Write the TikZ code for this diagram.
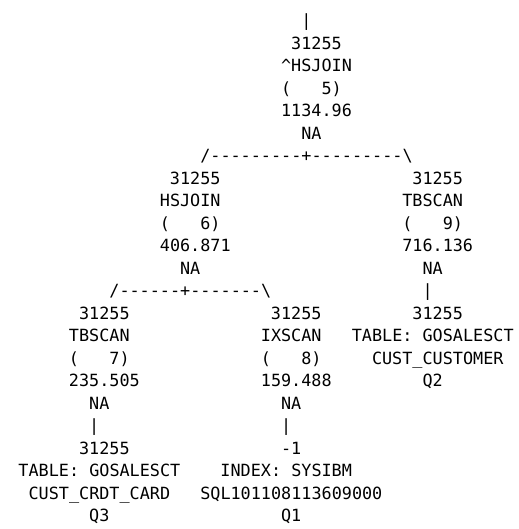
\documentclass[tikz,border=0pt]{standalone}
\usepackage{fontspec}
\usepackage{tikz}
\newfontfamily\planfont{DejaVu Sans Mono}[Ligatures=TeXOff]

\begin{document}
\begin{tikzpicture}[
  x=10.1pt, y=-22.5pt,
  cell/.style={font=\planfont\fontsize{16.8pt}{22.5pt}\selectfont, inner sep=0pt, anchor=base west},
  wire/.style={cell}
]
  \useasboundingbox (-1.81,-1.18) rectangle (49.57,22.33);

  % Operator 5 (root hash join)
  \node[wire] (w5top) at (28,0) {|};
  \node[cell] (o5r) at (27,1) {31255};
  \node[cell] (o5t) at (26,2) {\textasciicircum HSJOIN};
  \node[cell] (o5n) at (26,3) {(~~~5)};
  \node[cell] (o5c) at (26,4) {1134.96};
  \node[cell] (o5i) at (28,5) {NA};
  \node[wire] (w5) at (18,6) {/---------+---------\textbackslash};

  % Operator 6 (hash join)
  \node[cell] (o6r) at (15,7) {31255};
  \node[cell] (o6t) at (14,8) {HSJOIN};
  \node[cell] (o6n) at (14,9) {(~~~6)};
  \node[cell] (o6c) at (14,10) {406.871};
  \node[cell] (o6i) at (16,11) {NA};
  \node[wire] (w6) at (9,12) {/------+-------\textbackslash};

  % Operator 9 (table scan)
  \node[cell] (o9r) at (39,7) {31255};
  \node[cell] (o9t) at (38,8) {TBSCAN};
  \node[cell] (o9n) at (38,9) {(~~~9)};
  \node[cell] (o9c) at (38,10) {716.136};
  \node[cell] (o9i) at (40,11) {NA};
  \node[wire] (w9) at (40,12) {|};

  % Operator 7 (table scan)
  \node[cell] (o7r) at (6,13) {31255};
  \node[cell] (o7t) at (5,14) {TBSCAN};
  \node[cell] (o7n) at (5,15) {(~~~7)};
  \node[cell] (o7c) at (5,16) {235.505};
  \node[cell] (o7i) at (7,17) {NA};
  \node[wire] (w7) at (7,18) {|};

  % Operator 8 (index scan)
  \node[cell] (o8r) at (25,13) {31255};
  \node[cell] (o8t) at (24,14) {IXSCAN};
  \node[cell] (o8n) at (24,15) {(~~~8)};
  \node[cell] (o8c) at (24,16) {159.488};
  \node[cell] (o8i) at (26,17) {NA};
  \node[wire] (w8) at (26,18) {|};

  % Base objects
  \node[cell] (q2r) at (39,13) {31255};
  \node[cell] (q2s) at (33,14) {TABLE: GOSALESCT};
  \node[cell] (q2t) at (35,15) {CUST\_CUSTOMER};
  \node[cell] (q2) at (40,16) {Q2};

  \node[cell] (q3r) at (6,19) {31255};
  \node[cell] (q3s) at (0,20) {TABLE: GOSALESCT};
  \node[cell] (q3t) at (1,21) {CUST\_CRDT\_CARD};
  \node[cell] (q3) at (7,22) {Q3};

  \node[cell] (q1r) at (26,19) {-1};
  \node[cell] (q1s) at (20,20) {INDEX: SYSIBM};
  \node[cell] (q1t) at (18,21) {SQL101108113609000};
  \node[cell] (q1) at (26,22) {Q1};
\end{tikzpicture}
\end{document}
